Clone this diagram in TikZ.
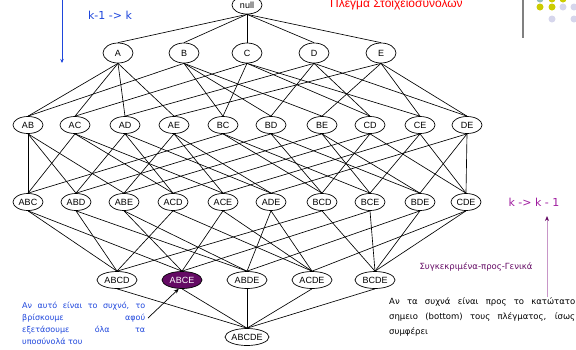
\documentclass[tikz,border=0pt]{standalone}
\usepackage{fontspec}
\setmainfont{Liberation Sans}
\newfontfamily\notefont{DejaVu Sans}
\usetikzlibrary{shapes.geometric, arrows.meta, positioning}
\definecolor{notesblue}{RGB}{30, 70, 220}
\definecolor{titlered}{RGB}{255, 0, 0}
\definecolor{darkplum}{RGB}{100, 10, 100}
\definecolor{plum}{RGB}{160, 30, 160}
\definecolor{lightplum}{RGB}{200, 150, 200}
\definecolor{dotyellow}{RGB}{204, 204, 0}
\definecolor{dotlavender}{RGB}{214, 214, 236}
\definecolor{dotteal}{RGB}{150, 190, 190}

\begin{document}
\begin{tikzpicture}[
    x=1pt, y=-1pt,
    itemset/.style={draw, ellipse, line width=0.7pt, minimum width=30pt, minimum height=17pt, inner sep=0pt, font=\fontsize{9}{10}\selectfont},
    edge/.style={line width=0.65pt},
    note/.style={font=\notefont\fontsize{8}{12}\selectfont, align=justify, inner sep=0pt, anchor=north west},
    arrow/.style={-{Stealth[length=5pt, width=4pt]}}
]
\useasboundingbox (0,0) rectangle (576,349);
\clip (0,0) rectangle (576,349);

% decoration top right
\draw[gray, line width=1.5pt] (523,0) -- (523,38);
\fill[dotteal] (540,-1) circle (3.5);
\fill[dotyellow] (552,-1) circle (3.5);
\fill[dotyellow] (563,-1) circle (3.5);
\fill[dotyellow] (540,7) circle (3.5);
\fill[dotyellow] (552,7) circle (3.5);
\fill[dotlavender] (563,7) circle (3.5);
\fill[dotlavender] (574,7) circle (3.5);
\fill[dotlavender] (552,19) circle (3.5);
\fill[dotlavender] (574,19) circle (3.5);

\node[text=titlered, font=\fontsize{12}{14}\selectfont, anchor=base west, inner sep=0pt] (title) at (330,7) {Πλέγμα Στοιχειοσυνόλων};

% lattice
\node[itemset, minimum height=18pt] (null) at (247,5) {null};
\foreach \n/\x in {A/118, B/184, C/247, D/314, E/381}
    \node[itemset, minimum height=20pt] (\n) at (\x,53) {\n};
\foreach \n/\x in {AB/28, AC/75, AD/125, AE/174, BC/223, BD/271, BE/322, CD/370, CE/420, DE/467}
    \node[itemset] (\n) at (\x,125) {\n};
\foreach \n/\x in {ABC/28, ABD/76, ABE/124, ACD/173, ACE/223, ADE/271, BCD/322, BCE/370, BDE/420, CDE/466}
    \node[itemset] (\n) at (\x,202) {\n};
\node[itemset, minimum width=40pt] (ABCD) at (117,280) {ABCD};
\node[itemset, minimum width=40pt, fill=darkplum, text=white] (ABCE) at (182,280) {ABCE};
\node[itemset, minimum width=40pt] (ABDE) at (247,280) {ABDE};
\node[itemset, minimum width=40pt] (ACDE) at (312,280) {ACDE};
\node[itemset, minimum width=40pt] (BCDE) at (375,280) {BCDE};
\node[itemset, minimum width=44pt] (ABCDE) at (247,337) {ABCDE};

\foreach \a in {A,B,C,D,E}
    \draw[edge] (null.south) -- (\a.north);
\foreach \a/\b in {A/B, A/C, A/D, A/E, B/C, B/D, B/E, C/D, C/E, D/E} {
    \draw[edge] (\a.south) -- (\a\b.north);
    \draw[edge] (\b.south) -- (\a\b.north);
}
\foreach \a/\b/\c in {A/B/C, A/B/D, A/B/E, A/C/D, A/C/E, A/D/E, B/C/D, B/C/E, B/D/E, C/D/E} {
    \draw[edge] (\a\b.south) -- (\a\b\c.north);
    \draw[edge] (\a\c.south) -- (\a\b\c.north);
    \draw[edge] (\b\c.south) -- (\a\b\c.north);
}
\foreach \a/\b/\c/\d in {A/B/C/D, A/B/C/E, A/B/D/E, A/C/D/E, B/C/D/E} {
    \draw[edge] (\a\b\c.south) -- (\a\b\c\d.north);
    \draw[edge] (\a\b\d.south) -- (\a\b\c\d.north);
    \draw[edge] (\a\c\d.south) -- (\a\b\c\d.north);
    \draw[edge] (\b\c\d.south) -- (\a\b\c\d.north);
}
\foreach \s in {ABCD, ABCE, ABDE, ACDE, BCDE}
    \draw[edge] (\s.south) -- (ABCDE.north);

% direction top-down
\coordinate (downtop) at (62,0);
\coordinate (downend) at (62,63);
\draw[notesblue, line width=0.8pt, -{Stealth[length=4pt, width=3.5pt]}] (downtop) -- (downend);
\node[text=notesblue, font=\notefont\fontsize{11}{13}\selectfont] (downlabel) at (110,15) {k-1 -> k};

% direction bottom-up
\coordinate (upstart) at (547,297);
\coordinate (upend) at (547,216);
\draw[lightplum, line width=1pt, -{Stealth[length=5pt, width=4pt, color=darkplum]}] (upstart) -- (upend);
\node[text=plum, font=\notefont\fontsize{11}{13}\selectfont] (uplabel) at (534,202) {k -> k - 1};
\node[text=darkplum, font=\notefont\fontsize{8.5}{10}\selectfont] (specgen) at (476,267) {Συγκεκριμένα-προς-Γενικά};

% notes
\node[note, text=notesblue, text width=123pt] (leftnote) at (22,302)
    {Αν αυτό είναι το συχνό, το\linebreak βρίσκουμε αφού\linebreak εξετάσουμε όλα τα\linebreak υποσύνολά του};
\node[note, text width=186pt, font=\notefont\fontsize{8.5}{15}\selectfont] (rightnote) at (389,297)
    {Αν τα συχνά είναι προς το κατώτατο\linebreak σημειο (bottom) τους πλέγματος, ίσως\linebreak συμφέρει};
\coordinate (notestart) at (148,318);
\draw[arrow, line width=0.7pt] (notestart) -- (ABCE.250);

\end{tikzpicture}
\end{document}
